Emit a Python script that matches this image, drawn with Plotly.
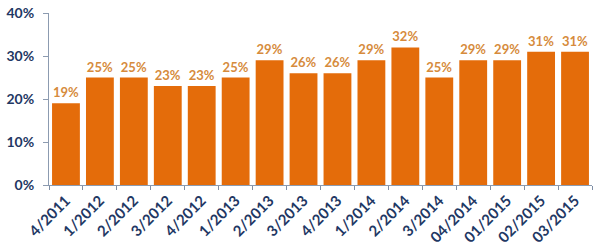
import plotly.graph_objects as go

categories = ["4/2011", "1/2012", "2/2012", "3/2012", "4/2012", "1/2013", "2/2013", "3/2013",
              "4/2013", "1/2014", "2/2014", "3/2014", "04/2014", "01/2015", "02/2015", "03/2015"]
values = [19, 25, 25, 23, 23, 25, 29, 26, 26, 29, 32, 25, 29, 29, 31, 31]
labels = [f"{v}%" for v in values]
y_ticks = [0, 10, 20, 30, 40]
y_tick_labels = [f"{t}%" for t in y_ticks]

FONT = "Lato"
fig = go.Figure(go.Bar(
    x=categories, y=values, text=labels, textposition="outside",
    marker=dict(color="#E46C0A", line=dict(width=0)),
    textfont=dict(family=FONT, size=13, color="#D68B3C", weight="bold"),
    cliponaxis=False,
))
fig.update_layout(
    width=595, height=249,
    margin=dict(l=49, r=3, t=13, b=64),
    paper_bgcolor="white", plot_bgcolor="white",
    bargap=0.18, showlegend=False,
    font=dict(family=FONT),
)
fig.update_xaxes(
    type="category", tickangle=-45, tickson="boundaries",
    ticks="outside", ticklen=4, tickcolor="#7F8FA6",
    showline=True, linecolor="#8C9BB0", linewidth=1,
    tickfont=dict(family=FONT, size=15, color="#1F3864", weight="bold"),
    showgrid=False,
)
fig.update_yaxes(
    range=[0, 40], tickvals=y_ticks, ticktext=y_tick_labels,
    ticks="outside", ticklen=5, tickcolor="#8C9BB0",
    showline=True, linecolor="#8C9BB0", linewidth=1,
    ticklabelstandoff=6,
    tickfont=dict(family=FONT, size=14, color="#1F3864", weight="bold"),
    showgrid=False, zeroline=False,
)
fig.write_html("out.html")
